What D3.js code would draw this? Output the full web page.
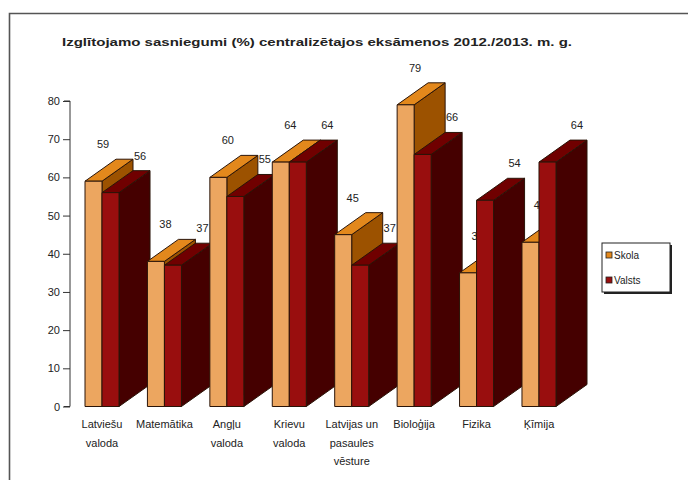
<!DOCTYPE html>
<html>
<head>
<meta charset="utf-8">
<script src="https://cdn.jsdelivr.net/npm/d3@7"></script>
<style>
  body { margin: 0; background: #fff; }
  svg text { font-family: "Liberation Sans Narrow", "Arial Narrow", "Liberation Sans", Arial, sans-serif; fill: #222; }
</style>
</head>
<body>
<div id="chart"></div>
<script>
const width = 688;
const height = 480;

// data
const categories = [
    ["Latviešu", "valoda"],
    ["Matemātika"],
    ["Angļu", "valoda"],
    ["Krievu", "valoda"],
    ["Latvijas un", "pasaules", "vēsture"],
    ["Bioloģija"],
    ["Fizika"],
    ["Ķīmija"]
];
const seriesNames = ["Skola", "Valsts"];
const skola = [59, 38, 60, 64, 45, 79, 35, 43];
const valsts = [56, 37, 55, 64, 37, 66, 54, 64];
const yTicks = [0, 10, 20, 30, 40, 50, 60, 70, 80];

const colours = {
    Skola: { front: "#eca660", top: "#e3881c", side: "#9c5200", key: "#e3881c" },
    Valsts: { front: "#990e0e", top: "#700000", side: "#450000", key: "#990e0e" }
};

const svg = d3.select("#chart").append("svg").attr("width", width).attr("height", height);

// frame
svg.append("path")
    .attr("d", "M9.5,490 L9.5,13.5 L700,13.5")
    .attr("fill", "none")
    .attr("stroke", "#555")
    .attr("stroke-width", 1.6);

svg.append("text")
    .attr("x", 62)
    .attr("y", 46)
    .attr("textLength", 510)
    .attr("lengthAdjust", "spacingAndGlyphs")
    .style("font-size", "11.5px")
    .style("font-weight", "bold")
    .text("Izglītojamo sasniegumi (%) centralizētajos eksāmenos 2012./2013. m. g.");

const catKeys = categories.map(c => c.join(" "));

const x = d3.scaleBand().domain(catKeys).range([85, 556]).paddingInner(0.455).paddingOuter(0);
const xSub = d3.scaleBand().domain(seriesNames).range([0, x.bandwidth()]);
const y = d3.scaleLinear().domain([0, 80]).range([406.5, 101]);

const dx = 31;   // depth offset
const dy = -22;

// y axis
const yAxis = d3.axisLeft(y).tickValues(yTicks).tickSize(7).tickPadding(3);
const yg = svg.append("g").attr("transform", "translate(70,0)").call(yAxis);
yg.select(".domain").attr("stroke", "#333").attr("d", `M-6,${y(80)}H0V${y(0)}H-6`);
yg.selectAll(".tick line").attr("stroke", "#333");
yg.selectAll(".tick text").style("font-size", "11px").attr("fill", "#222");

const rows = catKeys.map((c, i) => ({ cat: c, lines: categories[i], Skola: skola[i], Valsts: valsts[i] }));

// Skola labels sit behind the bars (some are partly hidden)
const labelGroup = svg.append("g");
rows.forEach(r => {
    labelGroup.append("text")
        .attr("x", x(r.cat) + 18)
        .attr("y", y(r.Skola) + dy - 11)
        .attr("text-anchor", "middle")
        .style("font-size", "11px")
        .text(r.Skola);
});

// 3d boxes
const barGroup = svg.append("g");
rows.forEach(r => {
    seriesNames.forEach(s => {
        const x0 = x(r.cat) + xSub(s);
        const x1 = x0 + xSub.bandwidth();
        const yt = y(r[s]);
        const yb = y(0);
        const c = colours[s];
        const g = barGroup.append("g")
            .attr("stroke", "#2a1408")
            .attr("stroke-width", 1)
            .attr("stroke-linejoin", "round");
        g.append("path")
            .attr("d", `M${x1},${yt}L${x1 + dx},${yt + dy}L${x1 + dx},${yb + dy}L${x1},${yb}Z`)
            .attr("fill", c.side);
        g.append("path")
            .attr("d", `M${x0},${yt}L${x0 + dx},${yt + dy}L${x1 + dx},${yt + dy}L${x1},${yt}Z`)
            .attr("fill", c.top);
        g.append("rect")
            .attr("x", x0)
            .attr("y", yt)
            .attr("width", x1 - x0)
            .attr("height", yb - yt)
            .attr("fill", c.front);
    });
});

// Valsts labels on top
const labelTop = svg.append("g");
rows.forEach(r => {
    labelTop.append("text")
        .attr("x", x(r.cat) + xSub("Valsts") + 38)
        .attr("y", y(r.Valsts) + dy - 11)
        .attr("text-anchor", "middle")
        .style("font-size", "11px")
        .text(r.Valsts);
});

// category labels
const catGroup = svg.append("g");
rows.forEach(r => {
    const t = catGroup.append("text")
        .attr("text-anchor", "middle")
        .style("font-size", "11px");
    r.lines.forEach((ln, k) => {
        t.append("tspan")
            .attr("x", x(r.cat) + x.bandwidth() / 2)
            .attr("y", 428 + k * 18.5)
            .text(ln);
    });
});

// legend
const legend = svg.append("g").attr("transform", "translate(602,243)");
legend.append("rect").attr("x", 2).attr("y", 2).attr("width", 68).attr("height", 49).attr("fill", "#222");
legend.append("rect").attr("x", 0).attr("y", 0).attr("width", 68).attr("height", 49)
    .attr("fill", "#fff").attr("stroke", "#222").attr("stroke-width", 1);
seriesNames.forEach((s, i) => {
    const ly = 12 + i * 25;
    legend.append("rect")
        .attr("x", 4).attr("y", ly - 3).attr("width", 6).attr("height", 6)
        .attr("fill", colours[s].key)
        .attr("stroke", "#222").attr("stroke-width", 0.8);
    legend.append("text")
        .attr("x", 12).attr("y", ly + 4)
        .style("font-size", "10px")
        .text(s);
});
</script>
</body>
</html>
